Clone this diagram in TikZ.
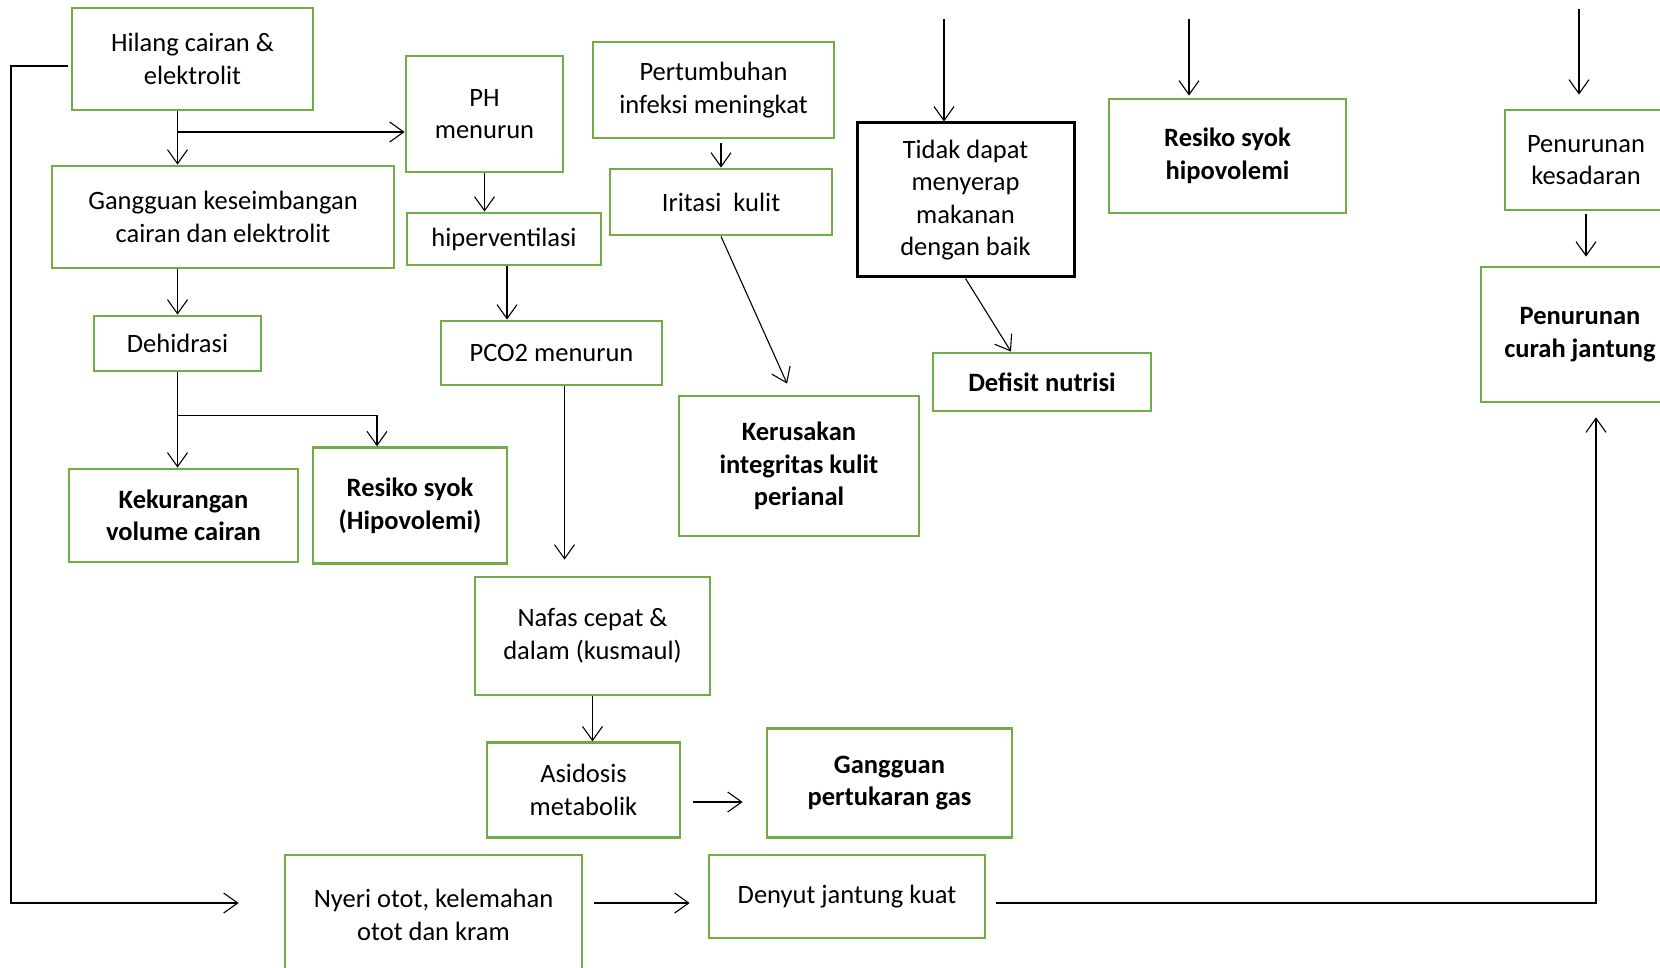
\documentclass[tikz,border=0pt]{standalone}
\usepackage{fontspec}
\setmainfont{Carlito}
\usetikzlibrary{arrows.meta,calc}
\definecolor{boxgreen}{RGB}{112,173,71}
\begin{document}
\begin{tikzpicture}[x=1pt,y=-1pt,>={Straight Barb[length=14pt,width=20pt]},
    box/.style={draw=boxgreen,line width=2.8pt,align=center,inner sep=0pt,font=\fontsize{26.5}{32.5}\selectfont},
    bbox/.style={box,font=\fontsize{26.5}{32.5}\selectfont\bfseries},
    conn/.style={line width=1.1pt}]
\useasboundingbox (0,0) rectangle (1660,968);
% left column
\node[box,minimum width=241pt,minimum height=102pt](hilang) at (192.5,59){Hilang cairan \&\\elektrolit};
\node[box,minimum width=342pt,minimum height=102pt](gangguan) at (223,217){Gangguan keseimbangan\\cairan dan elektrolit};
\node[box,minimum width=167pt,minimum height=55pt](dehidrasi) at (177.5,343.5){Dehidrasi};
\node[bbox,minimum width=229pt,minimum height=93pt](kekurangan) at (183.5,515.5){Kekurangan\\volume cairan};
\node[bbox,minimum width=194pt,minimum height=116pt](syokhipo) at (410,505.7){Resiko syok\\(Hipovolemi)};
% middle column
\node[box,minimum width=157pt,minimum height=116pt](ph) at (484.5,114){PH\\menurun};
\node[box,minimum width=194pt,minimum height=52pt](hiper) at (504,239){hiperventilasi};
\node[box,minimum width=221pt,minimum height=64pt](pco) at (551.5,353){PCO2 menurun};
\node[box,minimum width=235pt,minimum height=118pt](nafas) at (592.5,636){Nafas cepat \&\\dalam (kusmaul)};
\node[box,minimum width=193pt,minimum height=94.5pt](asidosis) at (583.5,790){Asidosis\\metabolik};
\node[bbox,minimum width=245pt,minimum height=109pt](gas) at (889.5,783){Gangguan\\pertukaran gas};
\node[box,minimum width=297pt,minimum height=120pt](nyeri) at (433.5,915){Nyeri otot, kelemahan\\otot dan kram};
\node[box,minimum width=276pt,minimum height=83pt](denyut) at (847,896.5){Denyut jantung kuat};
% skin and nutrition
\node[box,minimum width=241pt,minimum height=96pt](tumbuh) at (713.5,90){Pertumbuhan\\infeksi meningkat};
\node[box,minimum width=222pt,minimum height=66pt](iritasi) at (721,202){Iritasi\ \ kulit};
\node[bbox,minimum width=240pt,minimum height=140pt](kerusakan) at (799,466){Kerusakan\\integritas kulit\\perianal};
\node[box,draw=black,line width=3pt,minimum width=217pt,minimum height=154pt](tidak) at (965.5,200){Tidak dapat\\menyerap\\makanan\\dengan baik};
\node[bbox,minimum width=218pt,minimum height=58pt](defisit) at (1042,382){Defisit nutrisi};
\node[bbox,minimum width=237pt,minimum height=114pt](syok) at (1227.5,156){Resiko syok\\hipovolemi};
% right column
\node[box,minimum width=162pt,minimum height=100pt](sadar) at (1586,160){Penurunan\\kesadaran};
\node[bbox,minimum width=198pt,minimum height=135pt](curah) at (1580,334.5){Penurunan\\curah jantung};
% free ends
\coordinate (split) at (177,132);
\coordinate (fork) at (177,415.6);
\coordinate (topA) at (944,19);
\coordinate (topB) at (1189,19);
\coordinate (topC) at (1579,9);
\coordinate (lft) at (11,0);
\coordinate (hb) at ([yshift=-6.5pt]denyut.west);
% connectors
\draw[conn,->](dehidrasi.north |- hilang.south)--(dehidrasi.north |- gangguan.north);
\draw[conn,->](split)--(split -| ph.west);
\draw[conn,->](dehidrasi.north |- gangguan.south)--(dehidrasi.north);
\draw[conn,->](dehidrasi.south)--(dehidrasi.south |- kekurangan.north);
\draw[conn,->](fork)-|([xshift=-33pt]syokhipo.north);
\draw[conn,->](ph.south)--(ph.south |- hiper.north);
\draw[conn,->]([xshift=3pt]hiper.south)--([xshift=3pt]hiper.south |- pco.north);
\draw[conn,->,shorten >=16pt]([xshift=13pt]pco.south)--([xshift=13pt]pco.south |- nafas.north);
\draw[conn,->](nafas.south)--(nafas.south |- asidosis.north);
\draw[conn,->,shorten <=12pt,shorten >=23pt]([yshift=-12pt]asidosis.east)--([yshift=-12pt]asidosis.east -| gas.west);
\draw[conn,->,shorten <=11pt,shorten >=18pt](hb -| nyeri.east)--(hb);
\draw[conn,->,shorten <=10pt,shorten >=14pt](hb -| denyut.east)-|([xshift=16pt]curah.south);
\draw[conn,->,shorten <=3pt,shorten >=45pt]([yshift=-7pt]hilang.west)-|(lft |- hb)--(hb -| nyeri.west);
\draw[conn,->,shorten <=4pt](tumbuh.south -| iritasi.north)--(iritasi.north);
\draw[conn,->,shorten >=12pt](iritasi.south)--([xshift=-7pt]kerusakan.north);
\draw[conn,->](topA)--(topA |- tidak.north);
\draw[conn,->](tidak.south)--([xshift=-31pt]defisit.north);
\draw[conn,->,shorten >=2pt](topB)--(topB |- syok.north);
\draw[conn,->,shorten >=14pt](topC)--(topC |- sadar.north);
\draw[conn,->,shorten <=3pt,shorten >=9pt](sadar.south)--(sadar.south |- curah.north);
\end{tikzpicture}
\end{document}
